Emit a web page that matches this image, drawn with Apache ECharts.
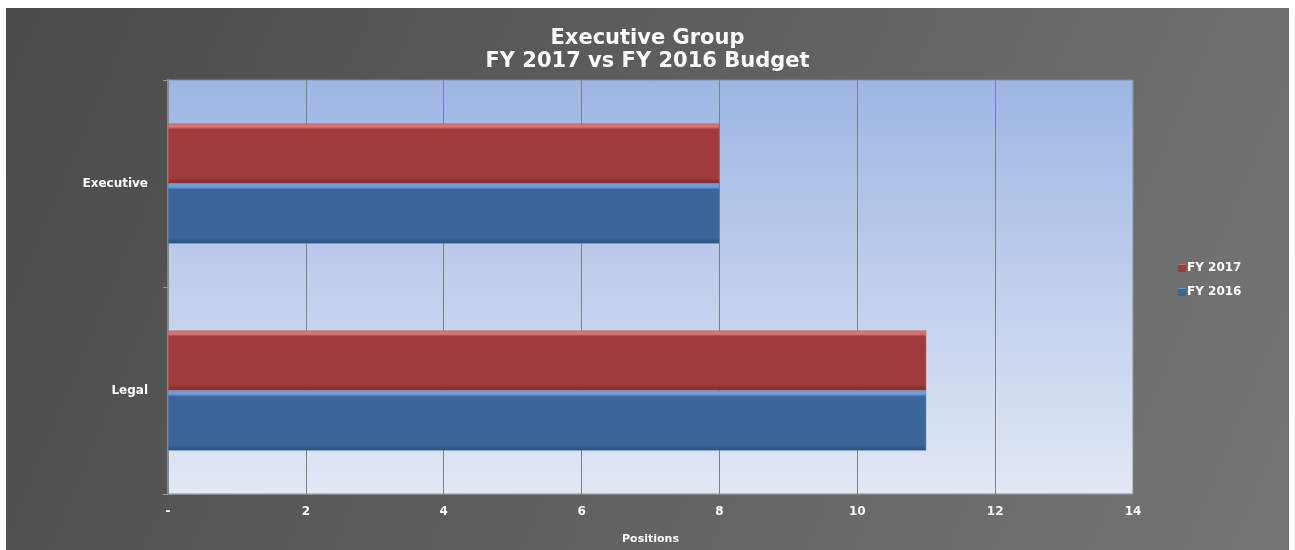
<!DOCTYPE html>
<html><head><meta charset="utf-8">
<script src="https://cdn.jsdelivr.net/npm/echarts@6/dist/echarts.min.js"></script>
<style>html,body{margin:0;padding:0;background:#fff}#c{width:1295px;height:550px}</style>
</head><body><div id="c"></div>
<script>
const categories = ['Executive', 'Legal'];
const fy2017 = [8, 11];
const fy2016 = [8, 11];
const xTicks = {0: '-', 2: '2', 4: '4', 6: '6', 8: '8', 10: '10', 12: '12', 14: '14'};

const chart = echarts.init(document.getElementById('c'));
const font = '"DejaVu Sans", Verdana, sans-serif';
function barGrad(hi, main, dark) {
  return new echarts.graphic.LinearGradient(0, 0, 0, 1, [
    {offset: 0, color: hi}, {offset: 0.06, color: hi}, {offset: 0.1, color: main},
    {offset: 0.9, color: main}, {offset: 1, color: dark}
  ]);
}
chart.setOption({
  backgroundColor: '#ffffff',
  animation: false,
  graphic: [{
    type: 'rect', z: -10, silent: true,
    shape: {x: 6, y: 8, width: 1283, height: 542},
    style: {fill: new echarts.graphic.LinearGradient(0, 0, 1, 1, [
      {offset: 0, color: '#4a4a4a'}, {offset: 1, color: '#767676'}])}
  }],
  title: {
    text: 'Executive Group\nFY 2017 vs FY 2016 Budget',
    left: 'center', top: 22,
    textStyle: {color: '#ffffff', fontSize: 21, fontWeight: 'bold', fontFamily: font, lineHeight: 23}
  },
  legend: {
    orient: 'vertical', left: 1173, top: 257, itemWidth: 8, itemHeight: 8, itemGap: 12,
    itemStyle: {borderWidth: 0},
    textStyle: {color: '#ffffff', fontWeight: 'bold', fontSize: 12, fontFamily: font, padding: [0, 0, 0, -4]},
    data: ['FY 2017', 'FY 2016']
  },
  grid: {
    left: 168, top: 80, width: 965, height: 416, show: true,
    borderColor: '#8a8a8a', borderWidth: 1,
    backgroundColor: new echarts.graphic.LinearGradient(0, 0, 0, 1, [
      {offset: 0, color: '#9db6e3'}, {offset: 1, color: '#e2e8f5'}])
  },
  xAxis: {
    type: 'value', min: 0, max: 14, interval: 2,
    name: 'Positions', nameLocation: 'middle', nameGap: 40,
    nameTextStyle: {color: '#ffffff', fontWeight: 'bold', fontSize: 11, fontFamily: font},
    axisLine: {show: true, lineStyle: {color: '#8a8a8a'}},
    axisTick: {show: false},
    splitLine: {show: true, lineStyle: {color: '#7f7f7f', width: 1}},
    axisLabel: {color: '#ffffff', fontWeight: 'bold', fontSize: 12, fontFamily: font, margin: 12,
      formatter: v => xTicks[v] !== undefined ? xTicks[v] : ''}
  },
  yAxis: {
    type: 'category', data: categories, inverse: true,
    axisLine: {show: true, lineStyle: {color: '#8a8a8a', width: 2}},
    axisTick: {show: true, length: 5, lineStyle: {color: '#9a9a9a'}},
    axisLabel: {color: '#ffffff', fontWeight: 'bold', fontSize: 12, fontFamily: font, margin: 20}
  },
  series: [
    {name: 'FY 2017', type: 'bar', data: fy2017, barGap: '0%', barCategoryGap: '42%',
      itemStyle: {color: barGrad('#d97270', '#9e3c3b', '#7a2b2a'), borderColor: '#b06060', borderWidth: 0.5}},
    {name: 'FY 2016', type: 'bar', data: fy2016, barGap: '0%', barCategoryGap: '42%',
      itemStyle: {color: barGrad('#6e9fdb', '#3c6699', '#2c4e78'), borderColor: '#5a7fb0', borderWidth: 0.5}}
  ]
});
</script></body></html>
